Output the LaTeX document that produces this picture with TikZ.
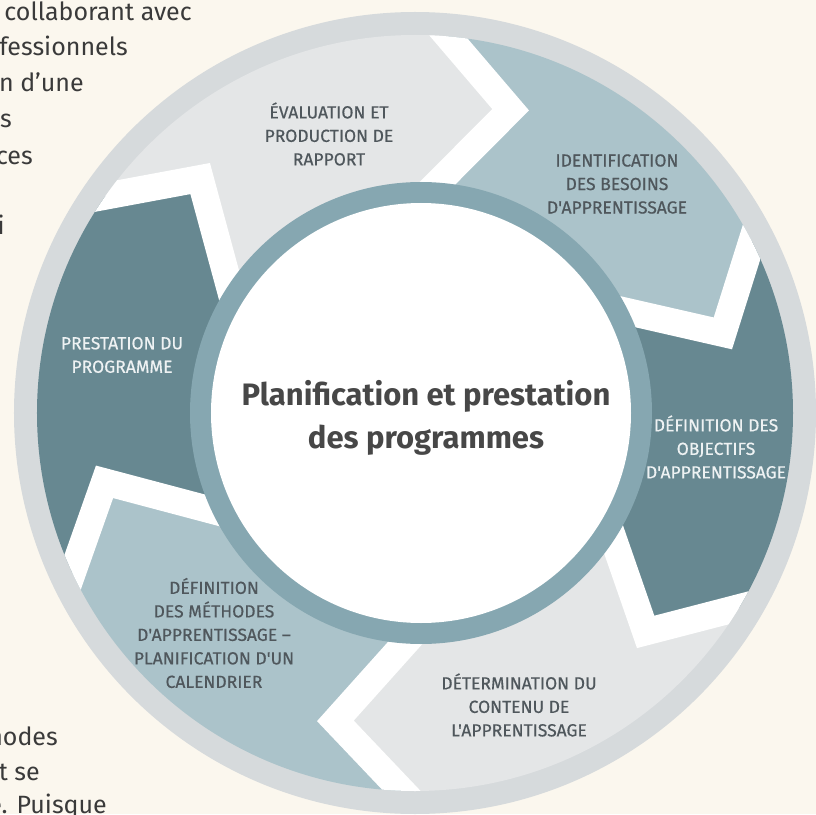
\documentclass[tikz,border=0pt]{standalone}
\usepackage{fontspec}
\setmainfont{Fira Sans}
\newfontfamily\labfont{Fira Sans}[FakeBold=0.5]
\usetikzlibrary{calc}
\definecolor{bgc}{HTML}{FBF7EE}
\definecolor{ringc}{HTML}{D6DADC}
\definecolor{grayseg}{HTML}{E4E6E7}
\definecolor{lblue}{HTML}{ABC3CA}
\definecolor{dteal}{HTML}{678891}
\definecolor{tealring}{HTML}{86A7B1}
\definecolor{labc}{HTML}{4F575C}
\definecolor{labw}{HTML}{EEF2F3}
\definecolor{titc}{HTML}{474747}
\definecolor{bgtc}{HTML}{3A3A3A}
\newcommand\mkchev[2]{%
  \coordinate (#1o) at (#2:378);
  \coordinate (#1t) at ({#2-12.5}:318);
  \coordinate (#1i) at (#2:228);
  \coordinate (#1O) at ($(#1t)!1.5!(#1o)$);
  \coordinate (#1I) at ($(#1t)!1.6!(#1i)$);
}
\begin{document}
\begin{tikzpicture}[x=1pt,y=1pt,
  lab/.style={align=center, font=\labfont\fontsize{17.5}{23.5}\selectfont, text=labc, inner sep=0pt},
  labd/.style={lab, text=labw},
  bgtext/.style={anchor=base east, font=\fontsize{25}{30}\selectfont, text=bgtc, inner sep=0pt},
  gap/.style={draw=white, line width=27pt, line join=miter, miter limit=10}]
\fill[bgc] (-415,413) rectangle (401,-401);
\useasboundingbox (-415,413) rectangle (401,-401);
% background text fragments
\node[bgtext] (t1) at (-223,392) {, collaborant avec};
\node[bgtext] (t2) at (-287,357) {fessionnels};
\node[bgtext] (t3) at (-331,321) {on d’une};
\node[bgtext] (t4) at (-403,285) {s};
\node[bgtext] (t5) at (-382,248) {ces};
\node[bgtext] (t6) at (-410,178) {i};
\node[bgtext] (b1) at (-357,-332) {nodes};
\node[bgtext] (b2) at (-375,-367) {et se};
\node[bgtext] (b3) at (-308,-400) {e. Puisque};
% outer ring
\fill[ringc] (0,0) circle (401);
\begin{scope}
  \clip (0,0) circle (378);
  \mkchev{A}{85}
  \mkchev{B}{27}
  \mkchev{C}{-31}
  \mkchev{D}{-92}
  \mkchev{E}{-155}
  \mkchev{F}{145}
  \fill[grayseg] (FI) -- (Ft) -- (FO) -- (145:600) -- (115:700) -- (85:600) -- (AO) -- (At) -- (AI) -- cycle;
  \fill[lblue] (AI) -- (At) -- (AO) -- (85:600) -- (56:700) -- (27:600) -- (BO) -- (Bt) -- (BI) -- cycle;
  \fill[dteal] (BI) -- (Bt) -- (BO) -- (27:600) -- (-2:700) -- (-31:600) -- (CO) -- (Ct) -- (CI) -- cycle;
  \fill[grayseg] (CI) -- (Ct) -- (CO) -- (-31:600) -- (-61:700) -- (-92:600) -- (DO) -- (Dt) -- (DI) -- cycle;
  \fill[lblue] (DI) -- (Dt) -- (DO) -- (-92:600) -- (-123:700) -- (-155:600) -- (EO) -- (Et) -- (EI) -- cycle;
  \fill[dteal] (EI) -- (Et) -- (EO) -- (-155:600) -- (-185:700) -- (-215:600) -- (FO) -- (Ft) -- (FI) -- cycle;
  \foreach \n in {A,B,C,D,E,F}{\draw[gap] (\n I) -- (\n t) -- (\n O);}
\end{scope}
% centre ring
\fill[tealring] (6,0) circle (231);
\fill[white] (6,0) circle (210);
\node[font=\fontsize{31}{43}\selectfont\bfseries, text=titc, align=center, inner sep=0pt] (title) at (11,-5) {Planification et prestation\\des programmes};
% labels
\node[lab] (eval) at (-86,279) {ÉVALUATION ET\\PRODUCTION DE\\RAPPORT};
\node[lab] (ident) at (202,229) {IDENTIFICATION\\DES BESOINS\\D'APPRENTISSAGE};
\node[labd] (obj) at (301,-34) {DÉFINITION DES\\OBJECTIFS\\D'APPRENTISSAGE};
\node[lab] (cont) at (104,-292) {DÉTERMINATION DU\\CONTENU DE\\L'APPRENTISSAGE};
\node[lab] (meth) at (-201,-220) {DÉFINITION\\DES MÉTHODES\\D'APPRENTISSAGE –\\PLANIFICATION D'UN\\CALENDRIER};
\node[labd] (prest) at (-293,58) {PRESTATION DU\\PROGRAMME};
\end{tikzpicture}
\end{document}
